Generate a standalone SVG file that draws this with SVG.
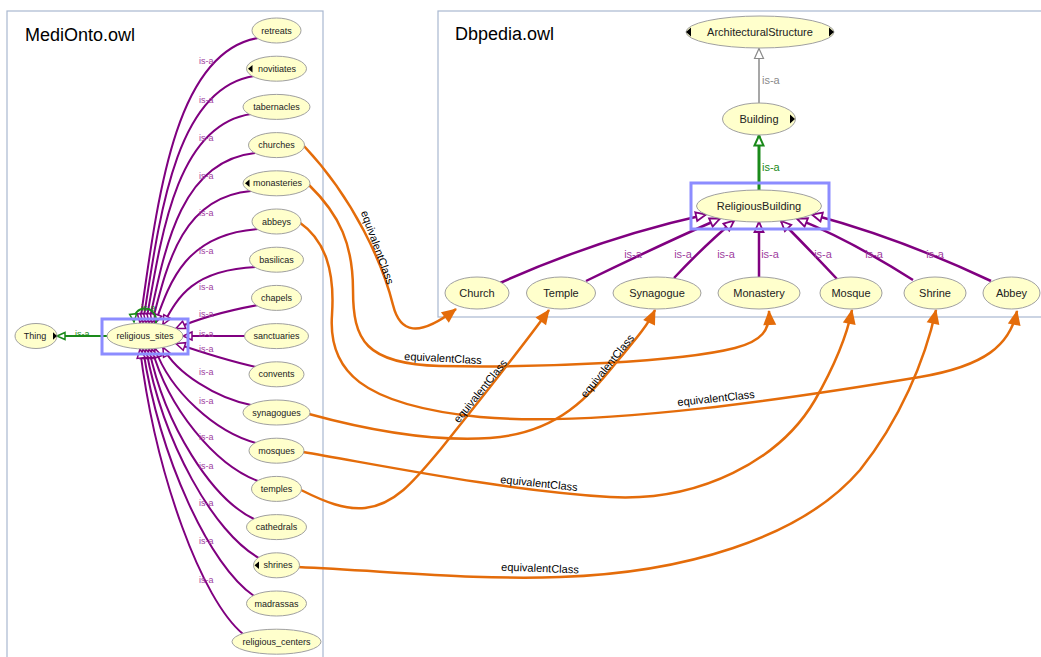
<svg xmlns="http://www.w3.org/2000/svg" width="1041" height="657" viewBox="0 0 1041 657">
<defs>
<style>
.panel{fill:none;stroke:#a9b8d0;stroke-width:1.2}
.title{font-family:"Liberation Sans",Arial,sans-serif;font-size:18px;fill:#000}
.n ellipse{fill:#ffffcc;stroke:#a0a0a0;stroke-width:1}
.n text{font-family:"Liberation Sans",Arial,sans-serif;font-size:9px;fill:#222;text-anchor:middle}
.big text{font-size:11px}
.tri{fill:#000;stroke:none}
.sel{fill:none;stroke:#8c8cff;stroke-width:3}
.isa{fill:none;stroke:#800080;stroke-width:2;marker-end:url(#mp)}
.isa2{fill:none;stroke:#800080;stroke-width:2.5;marker-end:url(#mp2)}
.lbl{font-family:"Liberation Sans",Arial,sans-serif;font-size:9px;fill:#a040a0}
.lbl2{font-family:"Liberation Sans",Arial,sans-serif;font-size:11px;fill:#a040a0;text-anchor:middle}
.eq{fill:none;stroke:#e46c0a;stroke-width:2.5;marker-end:url(#mo)}
.eqt{font-family:"Liberation Sans",Arial,sans-serif;font-size:11px;fill:#000;text-anchor:middle}
</style>
<marker id="mp" markerUnits="userSpaceOnUse" markerWidth="14" markerHeight="14" refX="10" refY="5" orient="auto" overflow="visible">
<path d="M1,1 L10,5 L1,9 z" fill="#fff" stroke="#800080" stroke-width="1.5"/>
</marker>
<marker id="mp2" markerUnits="userSpaceOnUse" markerWidth="14" markerHeight="14" refX="11" refY="5.5" orient="auto" overflow="visible">
<path d="M1,1 L11,5.5 L1,10 z" fill="#fff" stroke="#800080" stroke-width="1.8"/>
</marker>
<marker id="mg" markerUnits="userSpaceOnUse" markerWidth="14" markerHeight="14" refX="11" refY="5.5" orient="auto" overflow="visible">
<path d="M1,1 L11,5.5 L1,10 z" fill="#fff" stroke="#1a8a1a" stroke-width="2"/>
</marker>
<marker id="mgs" markerUnits="userSpaceOnUse" markerWidth="12" markerHeight="12" refX="9" refY="4.5" orient="auto" overflow="visible">
<path d="M1,1 L9,4.5 L1,8 z" fill="#fff" stroke="#1a8a1a" stroke-width="1.5"/>
</marker>
<marker id="mgr" markerUnits="userSpaceOnUse" markerWidth="14" markerHeight="14" refX="11" refY="5.5" orient="auto" overflow="visible">
<path d="M1,1 L11,5.5 L1,10 z" fill="#fff" stroke="#8a8a8a" stroke-width="1.2"/>
</marker>
<marker id="mo" markerUnits="userSpaceOnUse" markerWidth="18" markerHeight="18" refX="14" refY="6.5" orient="auto" overflow="visible">
<path d="M0,0 L15,6.5 L0,13 z" fill="#e46c0a"/>
</marker>
</defs>
<rect width="1041" height="657" fill="#fff"/>
<rect class="panel" x="7" y="11" width="316" height="660"/>
<rect class="panel" x="438" y="11" width="620" height="306"/>
<text class="title" x="25" y="41">MediOnto.owl</text>
<text class="title" x="455" y="40">Dbpedia.owl</text>

<g id="connectors">
<!-- left is-a edges -->
<path class="isa" d="M258,38 C175,52 158,195 140,323"/>
<path class="isa" d="M254,76 C176,88 160,212 143,323"/>
<path class="isa" d="M251,114 C178,125 162,229 146,323"/>
<path class="isa" d="M255,153 C181,161 165,246 149,323"/>
<path class="isa" d="M251,191 C182,197 167,264 152,323"/>
<path class="isa" d="M258,229 C186,234 170,281 155,323.5"/>
<path class="isa" d="M256,267 C191,270 177,299 163,324.5"/>
<path class="isa" d="M258,305 C220,312 195,320 176,328.5"/>
<path class="isa" d="M245,336 L183,336"/>
<path class="isa" d="M256,367 C225,360 195,350 176,343.5"/>
<path class="isa" d="M251,405 C216,398 176,373 163,347.5"/>
<path class="isa" d="M256,443 C215,432 170,391 155,348.5"/>
<path class="isa" d="M258,481 C215,465 168,408 152,349"/>
<path class="isa" d="M254,519 C212,499 165,426 149,349"/>
<path class="isa" d="M259,558 C214,533 163,443 146,349"/>
<path class="isa" d="M254,596 C210,566 160,460 143,349"/>
<path class="isa" d="M243,634 C202,600 156,477 140,349"/>
<g class="lbl">
<text x="199" y="64">is-a</text><text x="199" y="103">is-a</text><text x="199" y="141">is-a</text>
<text x="199" y="179">is-a</text><text x="199" y="216">is-a</text><text x="199" y="254">is-a</text>
<text x="199" y="290">is-a</text><text x="199" y="317">is-a</text><text x="199" y="337">is-a</text>
<text x="199" y="352">is-a</text><text x="199" y="375">is-a</text><text x="199" y="404">is-a</text>
<text x="199" y="440">is-a</text><text x="199" y="469">is-a</text><text x="199" y="506">is-a</text>
<text x="199" y="544">is-a</text><text x="199" y="583">is-a</text>
</g>
<!-- green edges left -->
<path d="M107,336 L57,336" fill="none" stroke="#1a8a1a" stroke-width="2" marker-end="url(#mgs)"/>
<text x="75" y="337" font-family="Liberation Sans, Arial, sans-serif" font-size="9" fill="#1a8a1a">is-a</text>
<path d="M156,323 C158,304 132,304 134,322" fill="none" stroke="#1a8a1a" stroke-width="2" marker-end="url(#mgs)"/>
<text x="141" y="311" font-family="Liberation Sans, Arial, sans-serif" font-size="9" fill="#1a8a1a">is-a</text>

<!-- right panel edges -->
<path d="M759,103 L759,48.5" fill="none" stroke="#8a8a8a" stroke-width="1.5" marker-end="url(#mgr)"/>
<text x="762" y="84" font-family="Liberation Sans, Arial, sans-serif" font-size="11" fill="#8a8a8a">is-a</text>
<path d="M759,190 L759,135.5" fill="none" stroke="#1a8a1a" stroke-width="3" marker-end="url(#mg)"/>
<text x="762" y="171" font-family="Liberation Sans, Arial, sans-serif" font-size="11" fill="#1a8a1a">is-a</text>
<path class="isa2" d="M500,283 Q600,238 706,214.5"/>
<path class="isa2" d="M586,281 Q660,245 720,218.5"/>
<path class="isa2" d="M674,278 Q705,245 734,220.7"/>
<path class="isa2" d="M759,277 L759,222"/>
<path class="isa2" d="M837,279 Q805,245 781,221"/>
<path class="isa2" d="M913,280 Q850,240 797,218.7"/>
<path class="isa2" d="M991,281 Q900,238 812,214.5"/>
<g class="lbl2">
<text x="633" y="258">is-a</text><text x="683" y="258">is-a</text><text x="726" y="258">is-a</text>
<text x="770" y="258">is-a</text><text x="823" y="258">is-a</text><text x="874" y="258">is-a</text>
<text x="935" y="258">is-a</text>
</g>

<!-- equivalentClass edges -->
<path class="eq" d="M304,146 C355,200 383,265 393,305 C400,333 418,338 456,309"/>
<path class="eq" d="M309,185 C340,215 353,245 353,290 C353,340 365,364 440,366 C540,368 680,362 735,348 C762,341 770,330 769,311"/>
<path class="eq" d="M299,222 C325,240 335,270 332,315 C328,370 360,405 480,417 C600,428 800,397 920,377 C985,366 1010,345 1017,311"/>
<path class="eq" d="M309,414 C360,428 430,442 490,438 C560,433 590,395 620,358 C635,340 648,325 655,310"/>
<path class="eq" d="M301,490 C325,502 345,510 365,508 C395,505 415,480 440,450 C480,400 520,350 549,310"/>
<path class="eq" d="M303,452 C380,465 500,490 610,497 C700,502 780,460 815,400 C835,365 847,335 852,310"/>
<path class="eq" d="M298,567 C400,572 480,580 560,577 C680,573 800,540 860,470 C900,420 925,360 936,310"/>
<text class="eqt" transform="translate(373,249) rotate(70)" y="-1">equivalentClass</text>
<text class="eqt" transform="translate(443,358) rotate(3)" y="4">equivalentClass</text>
<text class="eqt" transform="translate(716,398) rotate(-6)" y="4">equivalentClass</text>
<text class="eqt" transform="translate(611,369) rotate(-51)" y="-1">equivalentClass</text>
<text class="eqt" transform="translate(484,394) rotate(-51)" y="-1">equivalentClass</text>
<text class="eqt" transform="translate(539,483) rotate(6)" y="4">equivalentClass</text>
<text class="eqt" transform="translate(540,568) rotate(2)" y="4">equivalentClass</text>
</g>

<!-- left nodes -->
<g id="n-retreats" class="n"><ellipse cx="276.5" cy="30.5" rx="24.5" ry="12.5"/><text x="276.5" y="33.5">retreats</text></g>
<g id="n-novitiates" class="n"><ellipse cx="276.5" cy="68.7" rx="30" ry="12.5"/><polygon class="tri" points="248,68.7 252.5,65 252.5,72.4"/><text x="277" y="71.7">novitiates</text></g>
<g id="n-tabernacles" class="n"><ellipse cx="276.5" cy="106.9" rx="33.5" ry="12.5"/><text x="276.5" y="109.9">tabernacles</text></g>
<g id="n-churches" class="n"><ellipse cx="276.5" cy="145.1" rx="28" ry="12.5"/><text x="276.5" y="148.1">churches</text></g>
<g id="n-monasteries" class="n"><ellipse cx="276.5" cy="183.3" rx="33.5" ry="12.5"/><polygon class="tri" points="245,183.3 249.5,179.6 249.5,187"/><text x="277.5" y="186.3">monasteries</text></g>
<g id="n-abbeys" class="n"><ellipse cx="276.5" cy="221.5" rx="24.5" ry="12.5"/><text x="276.5" y="224.5">abbeys</text></g>
<g id="n-basilicas" class="n"><ellipse cx="276.5" cy="259.7" rx="27" ry="12.5"/><text x="276.5" y="262.7">basilicas</text></g>
<g id="n-chapels" class="n"><ellipse cx="276.5" cy="297.9" rx="25" ry="12.5"/><text x="276.5" y="300.9">chapels</text></g>
<g id="n-sanctuaries" class="n"><ellipse cx="276.5" cy="336.1" rx="32" ry="12.5"/><text x="276.5" y="339.1">sanctuaries</text></g>
<g id="n-convents" class="n"><ellipse cx="276.5" cy="374.3" rx="27.5" ry="12.5"/><text x="276.5" y="377.3">convents</text></g>
<g id="n-synagogues" class="n"><ellipse cx="276.5" cy="412.5" rx="33.5" ry="12.5"/><text x="276.5" y="415.5">synagogues</text></g>
<g id="n-mosques" class="n"><ellipse cx="276.5" cy="450.7" rx="27.5" ry="12.5"/><text x="276.5" y="453.7">mosques</text></g>
<g id="n-temples" class="n"><ellipse cx="276.5" cy="488.9" rx="25" ry="12.5"/><text x="276.5" y="491.9">temples</text></g>
<g id="n-cathedrals" class="n"><ellipse cx="276.5" cy="527.1" rx="30" ry="12.5"/><text x="276.5" y="530.1">cathedrals</text></g>
<g id="n-shrines" class="n"><ellipse cx="276.5" cy="565.3" rx="23" ry="12.5"/><polygon class="tri" points="254.5,565.3 259,561.6 259,569"/><text x="278" y="568.3">shrines</text></g>
<g id="n-madrassas" class="n"><ellipse cx="276.5" cy="603.5" rx="30" ry="12.5"/><text x="276.5" y="606.5">madrassas</text></g>
<g id="n-religious_centers" class="n"><ellipse cx="276.5" cy="641.7" rx="44.5" ry="12.5"/><text x="276.5" y="644.7">religious_centers</text></g>
<g id="n-thing" class="n"><ellipse cx="36" cy="336" rx="21" ry="12.5"/><polygon class="tri" points="57,336 53,332.3 53,339.7"/><text x="35" y="339">Thing</text></g>
<g id="n-religious_sites" class="n"><ellipse cx="145" cy="336" rx="38" ry="13"/><text x="145" y="339">religious_sites</text><rect class="sel" x="102" y="319" width="86" height="35"/></g>

<!-- right nodes -->
<g id="n-ArchitecturalStructure" class="n big"><ellipse cx="760" cy="32" rx="74" ry="16"/><polygon class="tri" points="686,32 691,27.5 691,36.5"/><polygon class="tri" points="834,32 829,27.5 829,36.5"/><text x="760" y="36">ArchitecturalStructure</text></g>
<g id="n-Building" class="n big"><ellipse cx="759" cy="119" rx="36.5" ry="16"/><polygon class="tri" points="795,119 790,114.5 790,123.5"/><text x="759" y="123">Building</text></g>
<g id="n-ReligiousBuilding" class="n big"><ellipse cx="759" cy="206" rx="62.5" ry="16"/><text x="759" y="210">ReligiousBuilding</text><rect class="sel" x="691" y="183" width="138" height="46"/></g>
<g id="n-Church" class="n big"><ellipse cx="477" cy="293" rx="32" ry="16"/><text x="477" y="297">Church</text></g>
<g id="n-Temple" class="n big"><ellipse cx="561" cy="293" rx="34.5" ry="16"/><text x="561" y="297">Temple</text></g>
<g id="n-Synagogue" class="n big"><ellipse cx="657" cy="293" rx="44" ry="16"/><text x="657" y="297">Synagogue</text></g>
<g id="n-Monastery" class="n big"><ellipse cx="759" cy="293" rx="41" ry="16"/><text x="759" y="297">Monastery</text></g>
<g id="n-Mosque" class="n big"><ellipse cx="851" cy="293" rx="31" ry="16"/><text x="851" y="297">Mosque</text></g>
<g id="n-Shrine" class="n big"><ellipse cx="935" cy="293" rx="31" ry="16"/><text x="935" y="297">Shrine</text></g>
<g id="n-Abbey" class="n big"><ellipse cx="1011.5" cy="293" rx="28.5" ry="16"/><text x="1011.5" y="297">Abbey</text></g>
</svg>
